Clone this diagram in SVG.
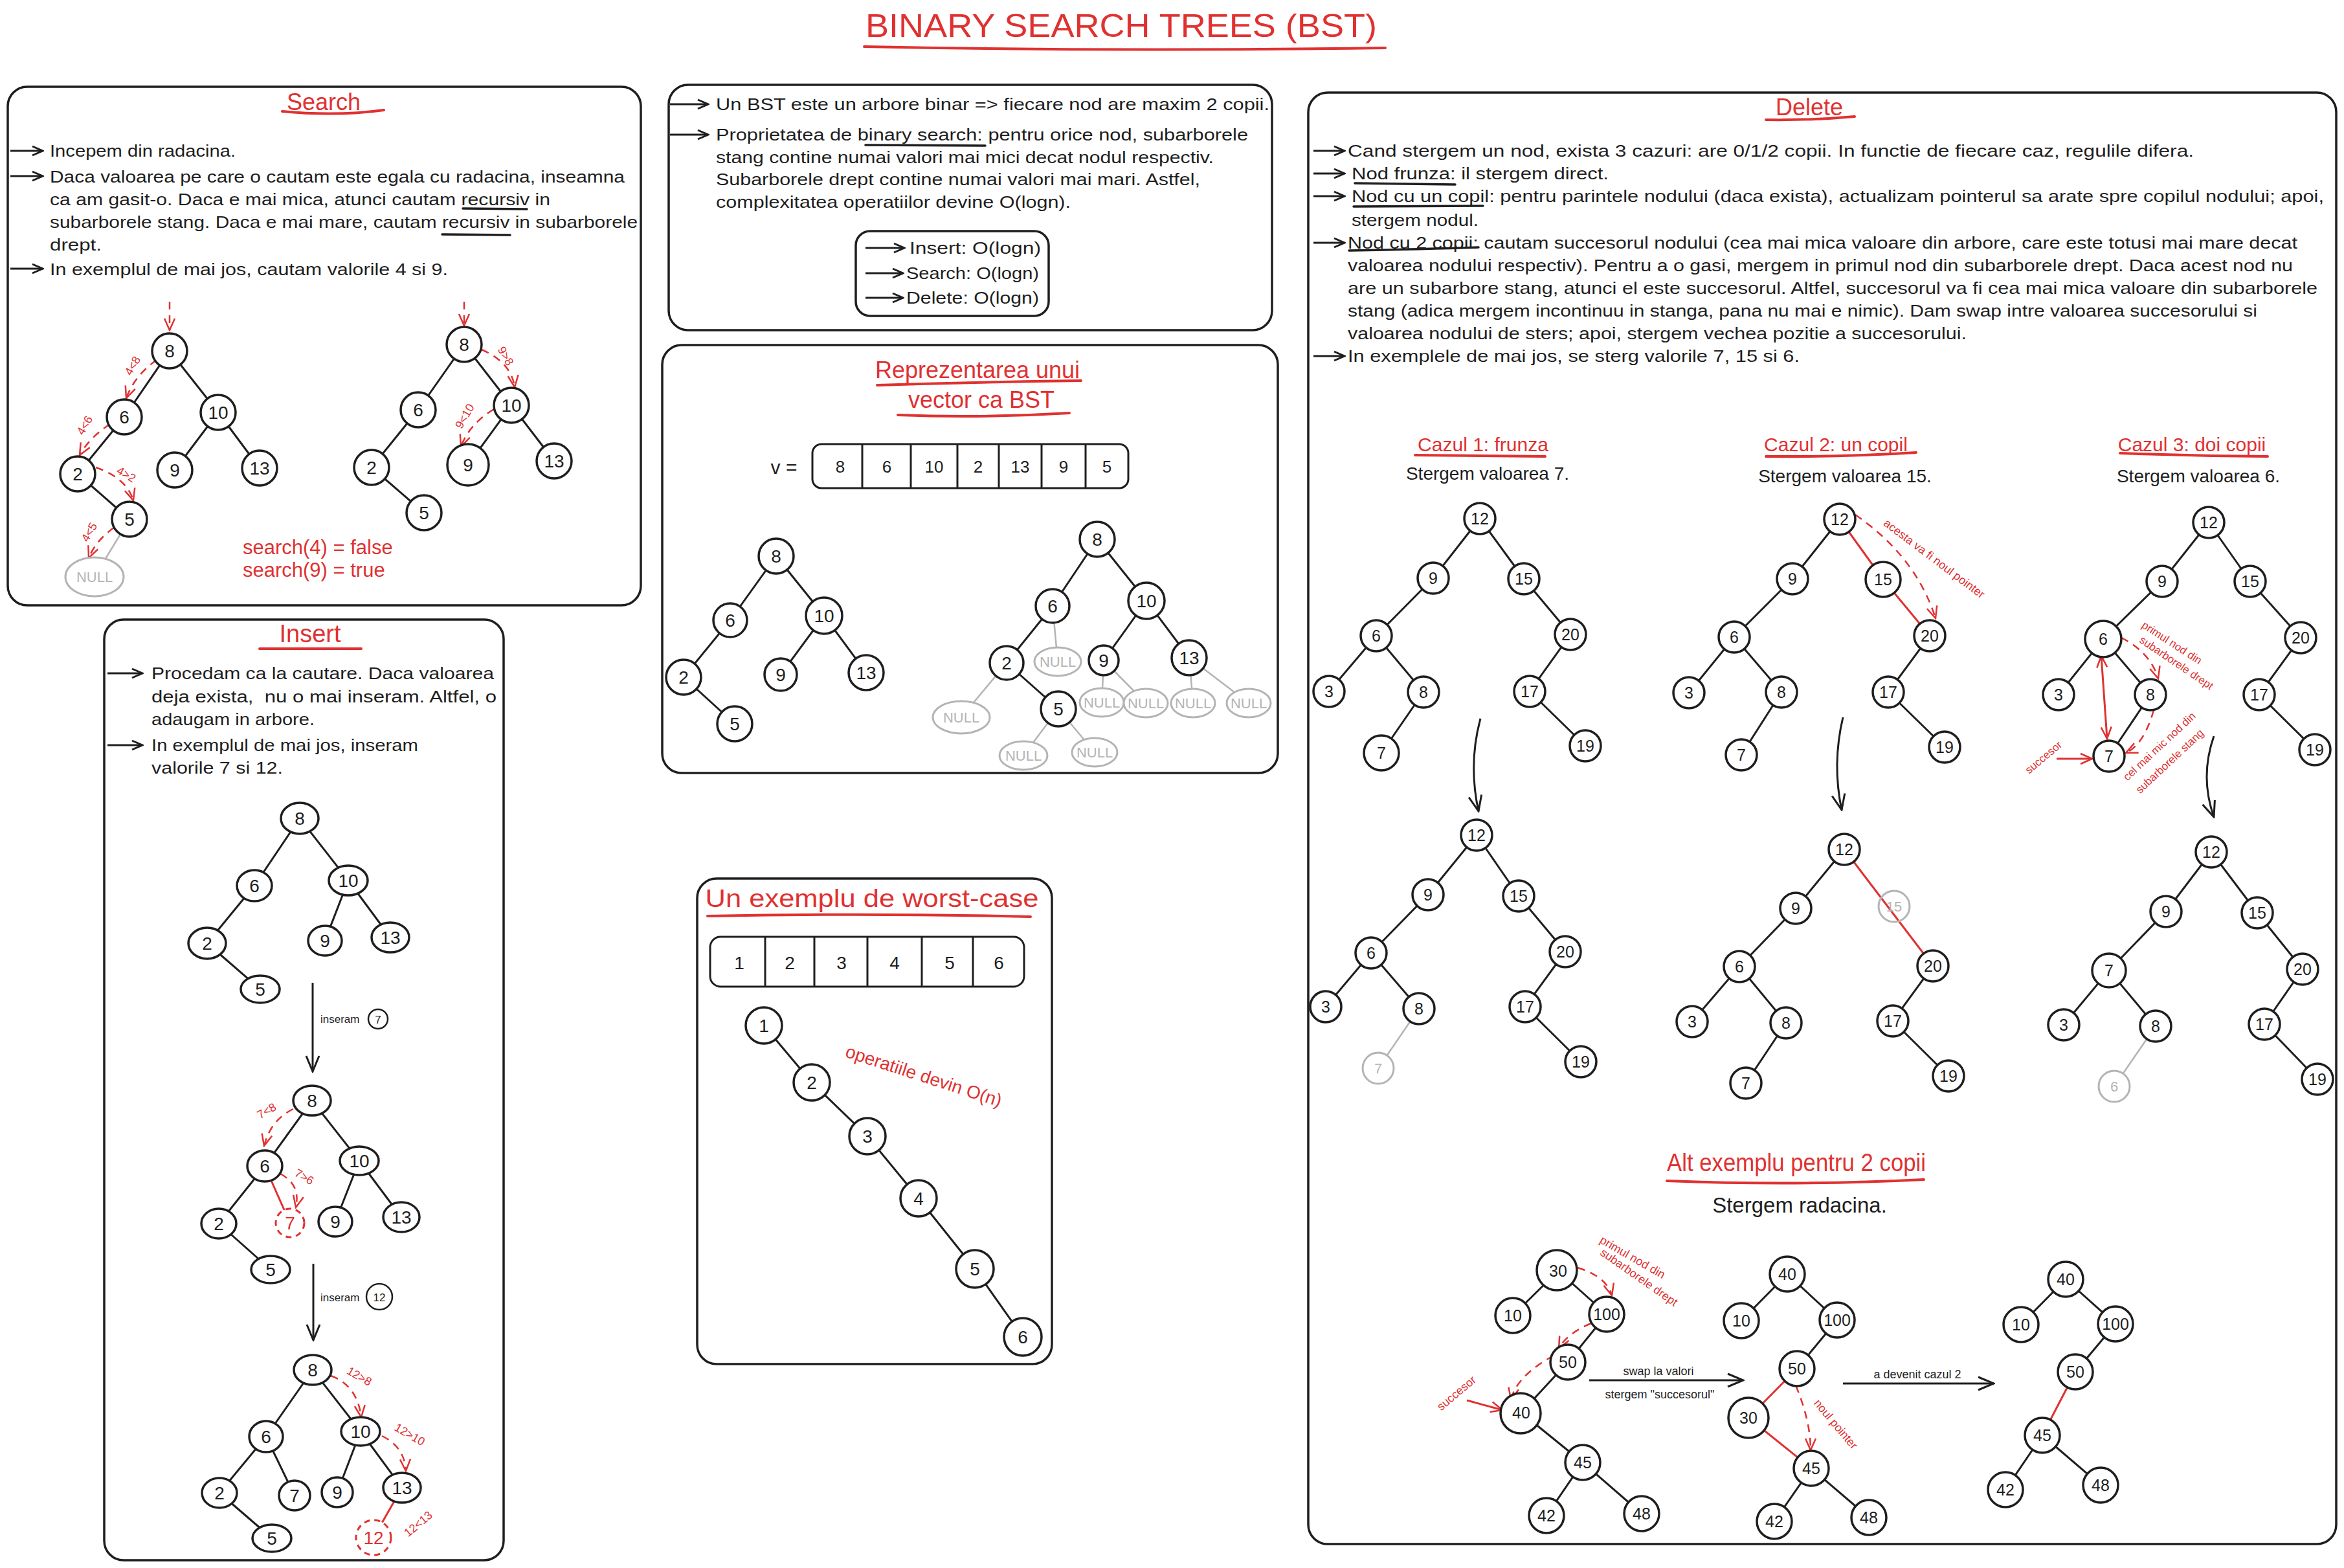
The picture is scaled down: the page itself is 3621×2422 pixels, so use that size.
<svg xmlns="http://www.w3.org/2000/svg" width="3621" height="2422" viewBox="0 0 3621 2422">
<style>
.bg{fill:#fff}
.pn{fill:none;stroke:#1e1e1e;stroke-width:3.5}
.t{font-family:"Liberation Sans",Arial,sans-serif;fill:#1e1e1e;dominant-baseline:central;font-size:26px}
.rt{font-family:"Liberation Sans",Arial,sans-serif;fill:#e03131;dominant-baseline:central;font-size:18px}
.h{text-anchor:middle}
.ttl{font-size:36px}
.nd circle,.nd ellipse{fill:#fff;stroke:#1e1e1e;stroke-width:3.5}
.nd text{font-family:"Liberation Sans",Arial,sans-serif;font-size:28px;text-anchor:middle;dominant-baseline:central;fill:#1e1e1e}
.sm text{font-size:25px}
.gn circle,.gn ellipse{fill:#fff;stroke:#b4b4b4;stroke-width:3}
.gn text{font-family:"Liberation Sans",Arial,sans-serif;font-size:22px;text-anchor:middle;dominant-baseline:central;fill:#b4b4b4}
.dn circle{fill:#fff;stroke:#e03131;stroke-width:3;stroke-dasharray:9 7}
.dn text{font-family:"Liberation Sans",Arial,sans-serif;font-size:28px;text-anchor:middle;dominant-baseline:central;fill:#e03131}
.ring{fill:none;stroke:#e03131;stroke-width:3}
.e line,.e polyline{stroke:#1e1e1e;stroke-width:3;fill:none}
.e .g{stroke:#b4b4b4;stroke-width:2.5}
.e .r{stroke:#e03131;stroke-width:3}
.rd{stroke:#e03131;stroke-width:2.5;fill:none;stroke-dasharray:12 9}
.ra{stroke:#e03131;stroke-width:3;fill:none}
.ka{stroke:#1e1e1e;stroke-width:3;fill:none}
.ul{stroke:#1e1e1e;stroke-width:3.5;fill:none;stroke-linecap:round}
.ur{stroke:#e03131;stroke-width:4;fill:none;stroke-linecap:round}
.cell{fill:none;stroke:#1e1e1e;stroke-width:3}
</style>
<defs>
<marker id="ak" viewBox="0 0 28 28" refX="26" refY="14" markerWidth="28" markerHeight="28" markerUnits="userSpaceOnUse" orient="auto"><path d="M2,4 L26,14 L2,24" fill="none" stroke="#1e1e1e" stroke-width="3"/></marker>
<marker id="ab" viewBox="0 0 20 20" refX="18" refY="10" markerWidth="20" markerHeight="20" markerUnits="userSpaceOnUse" orient="auto"><path d="M2,3 L18,10 L2,17" fill="none" stroke="#1e1e1e" stroke-width="3"/></marker>
<marker id="ar" viewBox="0 0 22 22" refX="20" refY="11" markerWidth="22" markerHeight="22" markerUnits="userSpaceOnUse" orient="auto"><path d="M2,3 L20,11 L2,19" fill="none" stroke="#e03131" stroke-width="2.5"/></marker>
<marker id="ars" viewBox="0 0 22 22" refX="2" refY="11" markerWidth="22" markerHeight="22" markerUnits="userSpaceOnUse" orient="auto"><path d="M20,3 L2,11 L20,19" fill="none" stroke="#e03131" stroke-width="2.5"/></marker>
</defs>
<rect class="bg" x="0" y="0" width="3621" height="2422"/>

<!-- Title -->
<g id="title">
<text class="rt h" x="1732" y="40" style="font-size:50px" textLength="790" lengthAdjust="spacingAndGlyphs">BINARY SEARCH TREES (BST)</text>
<path class="ur" d="M1335,72 Q1740,80 2140,74"/>
</g>

<!-- Panels -->
<g id="panels">
<rect class="pn" x="12" y="134" width="978" height="801" rx="30"/>
<rect class="pn" x="161" y="957" width="617" height="1453" rx="30"/>
<rect class="pn" x="1033" y="131" width="932" height="379" rx="30"/>
<rect class="pn" x="1023" y="533" width="951" height="661" rx="30"/>
<rect class="pn" x="1077" y="1357" width="548" height="750" rx="30"/>
<rect class="pn" x="2021" y="143" width="1588" height="2242" rx="30"/>
</g>

<!-- Connectors -->
<g id="connectors" class="e">
<!-- search -->
<line x1="262" y1="542" x2="192" y2="644"/><line x1="262" y1="542" x2="337" y2="637"/><line x1="192" y1="644" x2="120" y2="732"/><line x1="120" y1="732" x2="200" y2="802"/><line x1="337" y1="637" x2="270" y2="726"/><line x1="337" y1="637" x2="401" y2="723"/><line class="g" x1="200" y1="802" x2="146" y2="891"/>
<line x1="717" y1="532" x2="646" y2="633"/><line x1="717" y1="532" x2="790" y2="626"/><line x1="646" y1="633" x2="574" y2="722"/><line x1="574" y1="722" x2="655" y2="792"/><line x1="790" y1="626" x2="723" y2="718"/><line x1="790" y1="626" x2="856" y2="712"/>
<!-- insert -->
<line x1="463" y1="1264" x2="393" y2="1368"/><line x1="463" y1="1264" x2="538" y2="1360"/><line x1="393" y1="1368" x2="320" y2="1457"/><line x1="320" y1="1457" x2="402" y2="1528"/><line x1="538" y1="1360" x2="502" y2="1453"/><line x1="538" y1="1360" x2="603" y2="1448"/>
<line x1="482" y1="1700" x2="409" y2="1801"/><line x1="482" y1="1700" x2="555" y2="1793"/><line x1="409" y1="1801" x2="338" y2="1890"/><line x1="338" y1="1890" x2="418" y2="1961"/><line x1="555" y1="1793" x2="518" y2="1887"/><line x1="555" y1="1793" x2="620" y2="1880"/><line class="r" x1="409" y1="1801" x2="448" y2="1889"/>
<line x1="483" y1="2116" x2="411" y2="2219"/><line x1="483" y1="2116" x2="557" y2="2211"/><line x1="411" y1="2219" x2="339" y2="2306"/><line x1="411" y1="2219" x2="455" y2="2310"/><line x1="339" y1="2306" x2="420" y2="2376"/><line x1="557" y1="2211" x2="521" y2="2305"/><line x1="557" y1="2211" x2="621" y2="2298"/><line class="r" x1="621" y1="2298" x2="577" y2="2375"/>
<!-- vector -->
<line x1="1199" y1="859" x2="1128" y2="958"/><line x1="1199" y1="859" x2="1273" y2="951"/><line x1="1128" y1="958" x2="1056" y2="1046"/><line x1="1056" y1="1046" x2="1135" y2="1118"/><line x1="1273" y1="951" x2="1206" y2="1042"/><line x1="1273" y1="951" x2="1338" y2="1039"/>
<line x1="1695" y1="833" x2="1626" y2="936"/><line x1="1695" y1="833" x2="1771" y2="928"/><line x1="1626" y1="936" x2="1555" y2="1024"/><line x1="1555" y1="1024" x2="1635" y2="1095"/><line x1="1771" y1="928" x2="1705" y2="1020"/><line x1="1771" y1="928" x2="1837" y2="1016"/>
<line class="g" x1="1626" y1="936" x2="1634" y2="1022"/><line class="g" x1="1555" y1="1024" x2="1485" y2="1108"/><line class="g" x1="1705" y1="1020" x2="1702" y2="1085"/><line class="g" x1="1705" y1="1020" x2="1770" y2="1086"/><line class="g" x1="1837" y1="1016" x2="1843" y2="1086"/><line class="g" x1="1837" y1="1016" x2="1929" y2="1086"/><line class="g" x1="1635" y1="1095" x2="1581" y2="1167"/><line class="g" x1="1635" y1="1095" x2="1691" y2="1162"/>
<!-- worst case -->
<polyline points="1180,1584 1254,1672 1340,1755 1419,1851 1506,1960 1580,2065"/>
<!-- delete case 1 -->
<line x1="2286" y1="801" x2="2214" y2="893"/><line x1="2286" y1="801" x2="2354" y2="894"/><line x1="2214" y1="893" x2="2126" y2="982"/><line x1="2354" y1="894" x2="2426" y2="980"/><line x1="2126" y1="982" x2="2053" y2="1068"/><line x1="2126" y1="982" x2="2199" y2="1069"/><line x1="2199" y1="1069" x2="2134" y2="1163"/><line x1="2426" y1="980" x2="2363" y2="1068"/><line x1="2363" y1="1068" x2="2449" y2="1152"/>
<line x1="2281" y1="1290" x2="2206" y2="1382"/><line x1="2281" y1="1290" x2="2346" y2="1384"/><line x1="2206" y1="1382" x2="2118" y2="1472"/><line x1="2346" y1="1384" x2="2418" y2="1470"/><line x1="2118" y1="1472" x2="2048" y2="1555"/><line x1="2118" y1="1472" x2="2192" y2="1558"/><line class="g" x1="2192" y1="1558" x2="2129" y2="1650"/><line x1="2418" y1="1470" x2="2356" y2="1555"/><line x1="2356" y1="1555" x2="2442" y2="1640"/>
<!-- delete case 2 -->
<line x1="2842" y1="802" x2="2769" y2="894"/><line class="r" x1="2842" y1="802" x2="2909" y2="895"/><line x1="2769" y1="894" x2="2679" y2="984"/><line class="r" x1="2909" y1="895" x2="2981" y2="982"/><line x1="2679" y1="984" x2="2609" y2="1070"/><line x1="2679" y1="984" x2="2752" y2="1069"/><line x1="2752" y1="1069" x2="2690" y2="1166"/><line x1="2981" y1="982" x2="2917" y2="1069"/><line x1="2917" y1="1069" x2="3004" y2="1154"/>
<line x1="2849" y1="1312" x2="2774" y2="1403"/><line class="r" x1="2849" y1="1312" x2="2986" y2="1492"/><line x1="2774" y1="1403" x2="2687" y2="1493"/><line x1="2687" y1="1493" x2="2614" y2="1578"/><line x1="2687" y1="1493" x2="2759" y2="1580"/><line x1="2759" y1="1580" x2="2697" y2="1673"/><line x1="2986" y1="1492" x2="2924" y2="1577"/><line x1="2924" y1="1577" x2="3010" y2="1662"/>
<!-- delete case 3 -->
<line x1="3412" y1="807" x2="3340" y2="898"/><line x1="3412" y1="807" x2="3476" y2="898"/><line x1="3340" y1="898" x2="3249" y2="987"/><line x1="3476" y1="898" x2="3554" y2="985"/><line x1="3249" y1="987" x2="3180" y2="1073"/><line x1="3249" y1="987" x2="3322" y2="1073"/><line x1="3322" y1="1073" x2="3258" y2="1168"/><line x1="3554" y1="985" x2="3490" y2="1073"/><line x1="3490" y1="1073" x2="3576" y2="1158"/>
<line x1="3416" y1="1316" x2="3346" y2="1408"/><line x1="3416" y1="1316" x2="3487" y2="1410"/><line x1="3346" y1="1408" x2="3258" y2="1499"/><line x1="3487" y1="1410" x2="3557" y2="1497"/><line x1="3258" y1="1499" x2="3188" y2="1583"/><line x1="3258" y1="1499" x2="3330" y2="1585"/><line class="g" x1="3330" y1="1585" x2="3266" y2="1678"/><line x1="3557" y1="1497" x2="3498" y2="1582"/><line x1="3498" y1="1582" x2="3580" y2="1667"/>
<!-- alt example -->
<line x1="2407" y1="1963" x2="2337" y2="2032"/><line x1="2407" y1="1963" x2="2482" y2="2030"/><line x1="2482" y1="2030" x2="2422" y2="2104"/><line x1="2422" y1="2104" x2="2350" y2="2182"/><line x1="2350" y1="2182" x2="2445" y2="2259"/><line x1="2445" y1="2259" x2="2389" y2="2341"/><line x1="2445" y1="2259" x2="2536" y2="2338"/>
<line x1="2761" y1="1968" x2="2690" y2="2040"/><line x1="2761" y1="1968" x2="2838" y2="2039"/><line x1="2838" y1="2039" x2="2776" y2="2114"/><line class="r" x1="2776" y1="2114" x2="2701" y2="2190"/><line class="r" x1="2701" y1="2190" x2="2798" y2="2268"/><line x1="2798" y1="2268" x2="2741" y2="2350"/><line x1="2798" y1="2268" x2="2887" y2="2344"/>
<line x1="3191" y1="1976" x2="3122" y2="2046"/><line x1="3191" y1="1976" x2="3268" y2="2045"/><line x1="3268" y1="2045" x2="3206" y2="2119"/><line class="r" x1="3206" y1="2119" x2="3155" y2="2217"/><line x1="3155" y1="2217" x2="3098" y2="2301"/><line x1="3155" y1="2217" x2="3245" y2="2294"/>
<!-- flow arrows -->
<line class="ka" x1="483" y1="1518" x2="483" y2="1655" marker-end="url(#ak)"/>
<line class="ka" x1="484" y1="1952" x2="484" y2="2070" marker-end="url(#ak)"/>
<path class="ka" d="M2287,1110 Q2268,1180 2284,1253" marker-end="url(#ak)"/>
<path class="ka" d="M2847,1108 Q2830,1180 2845,1251" marker-end="url(#ak)"/>
<path class="ka" d="M3420,1137 Q3398,1200 3420,1262" marker-end="url(#ak)"/>
<line class="ka" x1="2455" y1="2132" x2="2693" y2="2132" marker-end="url(#ak)"/>
<line class="ka" x1="2847" y1="2137" x2="3080" y2="2137" marker-end="url(#ak)"/>
</g>

<!-- SEARCH panel -->
<g id="search">
<text class="rt h ttl" x="500" y="157">Search</text>
<path class="ur" d="M436,172 Q520,180 593,170"/>
<path class="ka" d="M16,233 L66,233" marker-end="url(#ab)"/>
<path class="ka" d="M16,272 L66,272" marker-end="url(#ab)"/>
<path class="ka" d="M16,415 L66,415" marker-end="url(#ab)"/>
<text class="t" x="77" y="233" textLength="287" lengthAdjust="spacingAndGlyphs">Incepem din radacina.</text>
<text class="t" x="77" y="273" textLength="888" lengthAdjust="spacingAndGlyphs">Daca valoarea pe care o cautam este egala cu radacina, inseamna</text>
<text class="t" x="77" y="308" textLength="773" lengthAdjust="spacingAndGlyphs">ca am gasit-o. Daca e mai mica, atunci cautam recursiv in</text>
<text class="t" x="77" y="343" textLength="908" lengthAdjust="spacingAndGlyphs">subarborele stang. Daca e mai mare, cautam recursiv in subarborele</text>
<text class="t" x="77" y="378" textLength="80" lengthAdjust="spacingAndGlyphs">drept.</text>
<text class="t" x="77" y="416" textLength="615" lengthAdjust="spacingAndGlyphs">In exemplul de mai jos, cautam valorile 4 si 9.</text>
<path class="ul" d="M715,322 L814,323"/>
<path class="ul" d="M683,362 L788,363"/>
<text class="rt" x="375" y="845" style="font-size:31px">search(4) = false</text>
<text class="rt" x="375" y="880" style="font-size:31px">search(9) = true</text>
<path class="rd" d="M262,466 L262,510" marker-end="url(#ar)"/>
<path class="rd" d="M242,556 Q208,580 195,615" marker-end="url(#ar)"/>
<path class="rd" d="M170,655 Q138,676 123,703" marker-end="url(#ar)"/>
<path class="rd" d="M148,722 Q195,738 206,773" marker-end="url(#ar)"/>
<path class="rd" d="M176,815 Q148,835 137,862" marker-end="url(#ar)"/>
<text class="rt h" transform="rotate(-60 205 565)" x="205" y="565">4&lt;8</text>
<text class="rt h" transform="rotate(-60 131 657)" x="131" y="657">4&lt;6</text>
<text class="rt h" transform="rotate(30 195 733)" x="195" y="733">4&gt;2</text>
<text class="rt h" transform="rotate(-60 138 822)" x="138" y="822">4&lt;5</text>
<path class="rd" d="M717,466 L717,503" marker-end="url(#ar)"/>
<path class="rd" d="M744,540 Q790,560 795,598" marker-end="url(#ar)"/>
<path class="rd" d="M763,632 Q725,655 712,690" marker-end="url(#ar)"/>
<text class="rt h" transform="rotate(60 781 550)" x="781" y="550">9&gt;8</text>
<text class="rt h" transform="rotate(-60 718 643)" x="718" y="643">9&lt;10</text>
</g>
<g id="s1-8" class="nd"><circle cx="262" cy="542" r="27"/><text x="262" y="542">8</text></g>
<g id="s1-6" class="nd"><circle cx="192" cy="644" r="27"/><text x="192" y="644">6</text></g>
<g id="s1-10" class="nd"><circle cx="337" cy="637" r="27"/><text x="337" y="637">10</text></g>
<g id="s1-2" class="nd"><circle cx="120" cy="732" r="27"/><text x="120" y="732">2</text></g>
<g id="s1-9" class="nd"><circle cx="270" cy="726" r="27"/><text x="270" y="726">9</text></g>
<g id="s1-13" class="nd"><circle cx="401" cy="723" r="27"/><text x="401" y="723">13</text></g>
<g id="s1-5" class="nd"><circle cx="200" cy="802" r="27"/><text x="200" y="802">5</text></g>
<g id="s1-null" class="gn"><ellipse cx="146" cy="891" rx="45" ry="30"/><text x="146" y="891">NULL</text></g>
<g id="s2-8" class="nd"><circle cx="717" cy="532" r="27"/><text x="717" y="532">8</text></g>
<g id="s2-6" class="nd"><circle cx="646" cy="633" r="27"/><text x="646" y="633">6</text></g>
<g id="s2-10" class="nd"><circle cx="790" cy="626" r="27"/><text x="790" y="626">10</text></g>
<g id="s2-2" class="nd"><circle cx="574" cy="722" r="27"/><text x="574" y="722">2</text></g>
<g id="s2-9" class="nd"><circle cx="723" cy="718" r="26"/><circle class="ring" cx="723" cy="718" r="32"/><text x="723" y="718">9</text></g>
<g id="s2-13" class="nd"><circle cx="856" cy="712" r="27"/><text x="856" y="712">13</text></g>
<g id="s2-5" class="nd"><circle cx="655" cy="792" r="27"/><text x="655" y="792">5</text></g>

<!-- INSERT panel -->
<g id="insert">
<text class="rt h ttl" x="479" y="979" style="font-size:38px">Insert</text>
<path class="ur" d="M401,1002 L558,1002"/>
<path class="ka" d="M166,1040 L220,1040" marker-end="url(#ab)"/>
<path class="ka" d="M166,1151 L220,1151" marker-end="url(#ab)"/>
<text class="t" x="234" y="1040" textLength="529" lengthAdjust="spacingAndGlyphs">Procedam ca la cautare. Daca valoarea</text>
<text class="t" x="234" y="1076" xml:space="preserve" textLength="533" lengthAdjust="spacingAndGlyphs">deja exista,  nu o mai inseram. Altfel, o</text>
<text class="t" x="234" y="1111" textLength="252" lengthAdjust="spacingAndGlyphs">adaugam in arbore.</text>
<text class="t" x="234" y="1151" textLength="412" lengthAdjust="spacingAndGlyphs">In exemplul de mai jos, inseram</text>
<text class="t" x="234" y="1186" textLength="203" lengthAdjust="spacingAndGlyphs">valorile 7 si 12.</text>
<text class="t" x="495" y="1574" style="font-size:17px">inseram</text>
<circle cx="584" cy="1574" r="15" fill="none" stroke="#1e1e1e" stroke-width="2.5"/><text class="t h" x="584" y="1575" style="font-size:17px">7</text>
<text class="t" x="495" y="2004" style="font-size:17px">inseram</text>
<circle cx="586" cy="2003" r="20" fill="none" stroke="#1e1e1e" stroke-width="2.5"/><text class="t h" x="586" y="2004" style="font-size:17px">12</text>
<path class="rd" d="M453,1713 Q418,1730 408,1770" marker-end="url(#ar)"/>
<path class="rd" d="M433,1813 Q465,1830 457,1865" marker-end="url(#ar)"/>
<path class="rd" d="M511,2125 Q552,2140 558,2189" marker-end="url(#ar)"/>
<path class="rd" d="M590,2218 Q625,2235 627,2272" marker-end="url(#ar)"/>
<text class="rt h" transform="rotate(-30 412 1716)" x="412" y="1716">7&lt;8</text>
<text class="rt h" transform="rotate(30 470 1818)" x="470" y="1818">7&gt;6</text>
<text class="rt h" transform="rotate(30 555 2126)" x="555" y="2126">12&gt;8</text>
<text class="rt h" transform="rotate(30 633 2216)" x="633" y="2216">12&gt;10</text>
<text class="rt h" transform="rotate(-40 646 2354)" x="646" y="2354">12&lt;13</text>
</g>
<g id="i1-8" class="nd"><ellipse cx="463" cy="1264" rx="29" ry="24"/><text x="463" y="1264">8</text></g>
<g id="i1-6" class="nd"><ellipse cx="393" cy="1368" rx="27" ry="24"/><text x="393" y="1368">6</text></g>
<g id="i1-10" class="nd"><ellipse cx="538" cy="1360" rx="30" ry="23"/><text x="538" y="1360">10</text></g>
<g id="i1-2" class="nd"><ellipse cx="320" cy="1457" rx="29" ry="24"/><text x="320" y="1457">2</text></g>
<g id="i1-9" class="nd"><ellipse cx="502" cy="1453" rx="26" ry="23"/><text x="502" y="1453">9</text></g>
<g id="i1-13" class="nd"><ellipse cx="603" cy="1448" rx="29" ry="23"/><text x="603" y="1448">13</text></g>
<g id="i1-5" class="nd"><ellipse cx="402" cy="1528" rx="30" ry="21"/><text x="402" y="1528">5</text></g>
<g id="i2-8" class="nd"><ellipse cx="482" cy="1700" rx="29" ry="23"/><text x="482" y="1700">8</text></g>
<g id="i2-6" class="nd"><ellipse cx="409" cy="1801" rx="27" ry="24"/><text x="409" y="1801">6</text></g>
<g id="i2-10" class="nd"><ellipse cx="555" cy="1793" rx="30" ry="22"/><text x="555" y="1793">10</text></g>
<g id="i2-2" class="nd"><ellipse cx="338" cy="1890" rx="27" ry="23"/><text x="338" y="1890">2</text></g>
<g id="i2-7" class="dn"><circle cx="448" cy="1889" r="22"/><text x="448" y="1889">7</text></g>
<g id="i2-9" class="nd"><ellipse cx="518" cy="1887" rx="26" ry="23"/><text x="518" y="1887">9</text></g>
<g id="i2-13" class="nd"><ellipse cx="620" cy="1880" rx="28" ry="23"/><text x="620" y="1880">13</text></g>
<g id="i2-5" class="nd"><ellipse cx="418" cy="1961" rx="30" ry="21"/><text x="418" y="1961">5</text></g>
<g id="i3-8" class="nd"><ellipse cx="483" cy="2116" rx="29" ry="23"/><text x="483" y="2116">8</text></g>
<g id="i3-6" class="nd"><ellipse cx="411" cy="2219" rx="26" ry="24"/><text x="411" y="2219">6</text></g>
<g id="i3-10" class="nd"><ellipse cx="557" cy="2211" rx="30" ry="22"/><text x="557" y="2211">10</text></g>
<g id="i3-2" class="nd"><ellipse cx="339" cy="2306" rx="27" ry="23"/><text x="339" y="2306">2</text></g>
<g id="i3-7" class="nd"><ellipse cx="455" cy="2310" rx="24" ry="23"/><text x="455" y="2310">7</text></g>
<g id="i3-9" class="nd"><ellipse cx="521" cy="2305" rx="24" ry="23"/><text x="521" y="2305">9</text></g>
<g id="i3-13" class="nd"><ellipse cx="621" cy="2298" rx="29" ry="23"/><text x="621" y="2298">13</text></g>
<g id="i3-5" class="nd"><ellipse cx="420" cy="2376" rx="30" ry="21"/><text x="420" y="2376">5</text></g>
<g id="i3-12" class="dn"><circle cx="577" cy="2375" r="27"/><text x="577" y="2375">12</text></g>

<!-- MIDDLE top panel -->
<g id="intro">
<path class="ka" d="M1035,161 L1094,161" marker-end="url(#ab)"/>
<path class="ka" d="M1035,208 L1094,208" marker-end="url(#ab)"/>
<text class="t" x="1106" y="161" textLength="855" lengthAdjust="spacingAndGlyphs">Un BST este un arbore binar =&gt; fiecare nod are maxim 2 copii.</text>
<text class="t" x="1106" y="208" textLength="822" lengthAdjust="spacingAndGlyphs">Proprietatea de binary search: pentru orice nod, subarborele</text>
<text class="t" x="1106" y="243" textLength="769" lengthAdjust="spacingAndGlyphs">stang contine numai valori mai mici decat nodul respectiv.</text>
<text class="t" x="1106" y="277" textLength="748" lengthAdjust="spacingAndGlyphs">Subarborele drept contine numai valori mai mari. Astfel,</text>
<text class="t" x="1106" y="312" textLength="548" lengthAdjust="spacingAndGlyphs">complexitatea operatiilor devine O(logn).</text>
<path class="ul" d="M1337,224 L1522,225"/>
<rect class="pn" x="1322" y="357" width="298" height="131" rx="22"/>
<path class="ka" d="M1337,383 L1397,383" marker-end="url(#ab)"/>
<path class="ka" d="M1337,422 L1395,422" marker-end="url(#ab)"/>
<path class="ka" d="M1337,460 L1395,460" marker-end="url(#ab)"/>
<text class="t" x="1405" y="383" textLength="203" lengthAdjust="spacingAndGlyphs">Insert: O(logn)</text>
<text class="t" x="1400" y="422" textLength="205" lengthAdjust="spacingAndGlyphs">Search: O(logn)</text>
<text class="t" x="1400" y="460" textLength="205" lengthAdjust="spacingAndGlyphs">Delete: O(logn)</text>
</g>

<!-- VECTOR panel -->
<g id="vector">
<text class="rt h ttl" x="1510" y="571">Reprezentarea unui</text>
<path class="ur" d="M1355,595 Q1510,590 1670,588"/>
<text class="rt h ttl" x="1516" y="617">vector ca BST</text>
<path class="ur" d="M1387,641 Q1520,646 1652,638"/>
<text class="t" x="1211" y="721" style="font-size:30px" text-anchor="middle">v =</text>
<rect class="cell" x="1255" y="686" width="488" height="68" rx="14"/>
<path class="cell" d="M1332,686 V754 M1407,686 V754 M1479,686 V754 M1543,686 V754 M1609,686 V754 M1677,686 V754"/>
<text class="t h" x="1298" y="721">8</text><text class="t h" x="1370" y="721">6</text><text class="t h" x="1443" y="721">10</text><text class="t h" x="1511" y="721">2</text><text class="t h" x="1576" y="721">13</text><text class="t h" x="1643" y="721">9</text><text class="t h" x="1710" y="721">5</text>
</g>
<g id="v1-8" class="nd"><circle cx="1199" cy="859" r="27"/><text x="1199" y="859">8</text></g>
<g id="v1-6" class="nd"><circle cx="1128" cy="958" r="26"/><text x="1128" y="958">6</text></g>
<g id="v1-10" class="nd"><circle cx="1273" cy="951" r="28"/><text x="1273" y="951">10</text></g>
<g id="v1-2" class="nd"><circle cx="1056" cy="1046" r="27"/><text x="1056" y="1046">2</text></g>
<g id="v1-9" class="nd"><circle cx="1206" cy="1042" r="25"/><text x="1206" y="1042">9</text></g>
<g id="v1-13" class="nd"><circle cx="1338" cy="1039" r="27"/><text x="1338" y="1039">13</text></g>
<g id="v1-5" class="nd"><circle cx="1135" cy="1118" r="27"/><text x="1135" y="1118">5</text></g>
<g id="v2-8" class="nd"><circle cx="1695" cy="833" r="27"/><text x="1695" y="833">8</text></g>
<g id="v2-6" class="nd"><circle cx="1626" cy="936" r="26"/><text x="1626" y="936">6</text></g>
<g id="v2-10" class="nd"><circle cx="1771" cy="928" r="28"/><text x="1771" y="928">10</text></g>
<g id="v2-2" class="nd"><circle cx="1555" cy="1024" r="26"/><text x="1555" y="1024">2</text></g>
<g id="v2-9" class="nd"><circle cx="1705" cy="1020" r="23"/><text x="1705" y="1020">9</text></g>
<g id="v2-13" class="nd"><circle cx="1837" cy="1016" r="27"/><text x="1837" y="1016">13</text></g>
<g id="v2-5" class="nd"><circle cx="1635" cy="1095" r="27"/><text x="1635" y="1095">5</text></g>
<g id="v2-n1" class="gn"><ellipse cx="1634" cy="1022" rx="36" ry="22"/><text x="1634" y="1022">NULL</text></g>
<g id="v2-n2" class="gn"><ellipse cx="1485" cy="1108" rx="44" ry="25"/><text x="1485" y="1108">NULL</text></g>
<g id="v2-n3" class="gn"><ellipse cx="1702" cy="1085" rx="34" ry="22"/><text x="1702" y="1085">NULL</text></g>
<g id="v2-n4" class="gn"><ellipse cx="1770" cy="1086" rx="34" ry="22"/><text x="1770" y="1086">NULL</text></g>
<g id="v2-n5" class="gn"><ellipse cx="1843" cy="1086" rx="34" ry="22"/><text x="1843" y="1086">NULL</text></g>
<g id="v2-n6" class="gn"><ellipse cx="1929" cy="1086" rx="34" ry="22"/><text x="1929" y="1086">NULL</text></g>
<g id="v2-n7" class="gn"><ellipse cx="1581" cy="1167" rx="37" ry="22"/><text x="1581" y="1167">NULL</text></g>
<g id="v2-n8" class="gn"><ellipse cx="1691" cy="1162" rx="35" ry="22"/><text x="1691" y="1162">NULL</text></g>

<!-- WORST CASE panel -->
<g id="worst">
<text class="rt h" x="1347" y="1388" style="font-size:38px" textLength="515" lengthAdjust="spacingAndGlyphs">Un exemplu de worst-case</text>
<path class="ur" d="M1093,1415 Q1340,1410 1592,1416"/>
<rect class="cell" x="1097" y="1447" width="485" height="77" rx="16"/>
<path class="cell" d="M1182,1447 V1524 M1258,1447 V1524 M1340,1447 V1524 M1424,1447 V1524 M1503,1447 V1524"/>
<text class="t h" x="1142" y="1487" style="font-size:28px">1</text><text class="t h" x="1220" y="1487" style="font-size:28px">2</text><text class="t h" x="1300" y="1487" style="font-size:28px">3</text><text class="t h" x="1382" y="1487" style="font-size:28px">4</text><text class="t h" x="1467" y="1487" style="font-size:28px">5</text><text class="t h" x="1543" y="1487" style="font-size:28px">6</text>
<text class="rt h" transform="rotate(18 1427 1662)" x="1427" y="1662" style="font-size:28px">operatiile devin O(n)</text>
</g>
<g id="w-1" class="nd"><circle cx="1180" cy="1584" r="28"/><text x="1180" y="1584">1</text></g>
<g id="w-2" class="nd"><circle cx="1254" cy="1672" r="28"/><text x="1254" y="1672">2</text></g>
<g id="w-3" class="nd"><circle cx="1340" cy="1755" r="28"/><text x="1340" y="1755">3</text></g>
<g id="w-4" class="nd"><circle cx="1419" cy="1851" r="28"/><text x="1419" y="1851">4</text></g>
<g id="w-5" class="nd"><circle cx="1506" cy="1960" r="29"/><text x="1506" y="1960">5</text></g>
<g id="w-6" class="nd"><circle cx="1580" cy="2065" r="29"/><text x="1580" y="2065">6</text></g>

<!-- DELETE panel -->
<g id="delete">
<text class="rt h ttl" x="2795" y="165">Delete</text>
<path class="ur" d="M2728,185 Q2800,186 2865,180"/>
<path class="ka" d="M2029,233 L2077,233" marker-end="url(#ab)"/>
<path class="ka" d="M2029,268 L2077,268" marker-end="url(#ab)"/>
<path class="ka" d="M2029,303 L2077,303" marker-end="url(#ab)"/>
<path class="ka" d="M2029,375 L2077,375" marker-end="url(#ab)"/>
<path class="ka" d="M2029,550 L2077,550" marker-end="url(#ab)"/>
<text class="t" x="2082" y="233" textLength="1307" lengthAdjust="spacingAndGlyphs">Cand stergem un nod, exista 3 cazuri: are 0/1/2 copii. In functie de fiecare caz, regulile difera.</text>
<text class="t" x="2088" y="268" textLength="397" lengthAdjust="spacingAndGlyphs">Nod frunza: il stergem direct.</text>
<text class="t" x="2088" y="303" textLength="1502" lengthAdjust="spacingAndGlyphs">Nod cu un copil: pentru parintele nodului (daca exista), actualizam pointerul sa arate spre copilul nodului; apoi,</text>
<text class="t" x="2088" y="340" textLength="196" lengthAdjust="spacingAndGlyphs">stergem nodul.</text>
<text class="t" x="2082" y="375" textLength="1467" lengthAdjust="spacingAndGlyphs">Nod cu 2 copii: cautam succesorul nodului (cea mai mica valoare din arbore, care este totusi mai mare decat</text>
<text class="t" x="2082" y="410" textLength="1460" lengthAdjust="spacingAndGlyphs">valoarea nodului respectiv). Pentru a o gasi, mergem in primul nod din subarborele drept. Daca acest nod nu</text>
<text class="t" x="2082" y="445" textLength="1498" lengthAdjust="spacingAndGlyphs">are un subarbore stang, atunci el este succesorul. Altfel, succesorul va fi cea mai mica valoare din subarborele</text>
<text class="t" x="2082" y="480" textLength="1405" lengthAdjust="spacingAndGlyphs">stang (adica mergem incontinuu in stanga, pana nu mai e nimic). Dam swap intre valoarea succesorului si</text>
<text class="t" x="2082" y="515" textLength="956" lengthAdjust="spacingAndGlyphs">valoarea nodului de sters; apoi, stergem vechea pozitie a succesorului.</text>
<text class="t" x="2082" y="550" textLength="698" lengthAdjust="spacingAndGlyphs">In exemplele de mai jos, se sterg valorile 7, 15 si 6.</text>
<path class="ul" d="M2093,283 L2248,285"/>
<path class="ul" d="M2091,319 L2291,318"/>
<path class="ul" d="M2084,387 Q2200,385 2284,382"/>
<text class="rt h" x="2291" y="686" style="font-size:30px">Cazul 1: frunza</text>
<path class="ur" d="M2186,703 L2387,705"/>
<text class="t h" x="2298" y="731" style="font-size:28px">Stergem valoarea 7.</text>
<text class="rt h" x="2836" y="686" style="font-size:30px">Cazul 2: un copil</text>
<path class="ur" d="M2728,705 Q2850,706 2960,699"/>
<text class="t h" x="2850" y="735" style="font-size:28px">Stergem valoarea 15.</text>
<text class="rt h" x="3386" y="686" style="font-size:30px">Cazul 3: doi copii</text>
<path class="ur" d="M3275,700 Q3390,704 3503,705"/>
<text class="t h" x="3396" y="735" style="font-size:28px">Stergem valoarea 6.</text>
<path class="rd" d="M2866,795 Q2960,860 2990,955" marker-end="url(#ar)"/>
<text class="rt h" transform="rotate(37 2988 863)" x="2988" y="863">acesta va fi noul pointer</text>
<line class="ra" x1="3246" y1="1013" x2="3255" y2="1141" marker-start="url(#ars)" marker-end="url(#ar)"/>
<path class="rd" d="M3277,985 Q3322,1008 3334,1048" marker-end="url(#ar)"/>
<text class="rt h" transform="rotate(33 3355 993)" x="3355" y="993" style="font-size:17px">primul nod din</text>
<text class="rt h" transform="rotate(34 3362 1024)" x="3362" y="1024" style="font-size:17px">subarborele drept</text>
<path class="rd" d="M3327,1097 Q3312,1150 3284,1163" marker-end="url(#ar)"/>
<text class="rt h" transform="rotate(-43 3336 1153)" x="3336" y="1153" style="font-size:17px">cel mai mic nod din</text>
<text class="rt h" transform="rotate(-43 3352 1176)" x="3352" y="1176" style="font-size:17px">subarborele stang</text>
<text class="rt h" transform="rotate(-40 3157 1170)" x="3157" y="1170" style="font-size:17px">succesor</text>
<line class="ra" x1="3177" y1="1172" x2="3232" y2="1172" marker-end="url(#ar)"/>
<text class="rt h" x="2775" y="1796" style="font-size:38px" textLength="400" lengthAdjust="spacingAndGlyphs">Alt exemplu pentru 2 copii</text>
<path class="ur" d="M2575,1824 Q2775,1832 2972,1822"/>
<text class="t h" x="2780" y="1861" style="font-size:33px">Stergem radacina.</text>
<text class="t h" x="2562" y="2118" style="font-size:18px">swap la valori</text>
<text class="t h" x="2564" y="2154" style="font-size:18px">stergem "succesorul"</text>
<text class="t h" x="2962" y="2123" style="font-size:18px">a devenit cazul 2</text>
<text class="rt h" transform="rotate(30 2522 1942)" x="2522" y="1942">primul nod din</text>
<text class="rt h" transform="rotate(35 2532 1973)" x="2532" y="1973">subarborele drept</text>
<path class="rd" d="M2437,1958 Q2482,1972 2490,2001" marker-end="url(#ar)"/>
<path class="rd" d="M2458,2044 Q2420,2060 2408,2083" marker-end="url(#ar)"/>
<path class="rd" d="M2400,2094 Q2343,2125 2334,2162" marker-end="url(#ar)"/>
<text class="rt h" transform="rotate(-40 2250 2152)" x="2250" y="2152">succesor</text>
<line class="ra" x1="2266" y1="2163" x2="2321" y2="2178" marker-end="url(#ar)"/>
<path class="rd" d="M2774,2140 Q2797,2195 2797,2240" marker-end="url(#ar)"/>
<text class="rt h" transform="rotate(50 2836 2200)" x="2836" y="2200">noul pointer</text>
</g>

<g class="sm">
<!-- case 1 -->
<g id="d1-12" class="nd"><circle cx="2286" cy="801" r="24"/><text x="2286" y="801">12</text></g>
<g id="d1-9" class="nd"><circle cx="2214" cy="893" r="24"/><text x="2214" y="893">9</text></g>
<g id="d1-15" class="nd"><circle cx="2354" cy="894" r="24"/><text x="2354" y="894">15</text></g>
<g id="d1-6" class="nd"><circle cx="2126" cy="982" r="24"/><text x="2126" y="982">6</text></g>
<g id="d1-20" class="nd"><circle cx="2426" cy="980" r="24"/><text x="2426" y="980">20</text></g>
<g id="d1-3" class="nd"><circle cx="2053" cy="1068" r="24"/><text x="2053" y="1068">3</text></g>
<g id="d1-8" class="nd"><circle cx="2199" cy="1069" r="24"/><text x="2199" y="1069">8</text></g>
<g id="d1-17" class="nd"><circle cx="2363" cy="1068" r="24"/><text x="2363" y="1068">17</text></g>
<g id="d1-7" class="nd"><circle cx="2134" cy="1163" r="24"/><circle class="ring" cx="2134" cy="1163" r="27"/><text x="2134" y="1163">7</text></g>
<g id="d1-19" class="nd"><circle cx="2449" cy="1152" r="24"/><text x="2449" y="1152">19</text></g>
<g id="d1b-12" class="nd"><circle cx="2281" cy="1290" r="24"/><text x="2281" y="1290">12</text></g>
<g id="d1b-9" class="nd"><circle cx="2206" cy="1382" r="24"/><text x="2206" y="1382">9</text></g>
<g id="d1b-15" class="nd"><circle cx="2346" cy="1384" r="24"/><text x="2346" y="1384">15</text></g>
<g id="d1b-6" class="nd"><circle cx="2118" cy="1472" r="24"/><text x="2118" y="1472">6</text></g>
<g id="d1b-20" class="nd"><circle cx="2418" cy="1470" r="24"/><text x="2418" y="1470">20</text></g>
<g id="d1b-3" class="nd"><circle cx="2048" cy="1555" r="24"/><text x="2048" y="1555">3</text></g>
<g id="d1b-8" class="nd"><circle cx="2192" cy="1558" r="24"/><text x="2192" y="1558">8</text></g>
<g id="d1b-17" class="nd"><circle cx="2356" cy="1555" r="24"/><text x="2356" y="1555">17</text></g>
<g id="d1b-7" class="gn"><circle cx="2129" cy="1650" r="24"/><text x="2129" y="1650">7</text></g>
<g id="d1b-19" class="nd"><circle cx="2442" cy="1640" r="24"/><text x="2442" y="1640">19</text></g>
<!-- case 2 -->
<g id="d2-12" class="nd"><circle cx="2842" cy="802" r="24"/><text x="2842" y="802">12</text></g>
<g id="d2-9" class="nd"><circle cx="2769" cy="894" r="24"/><text x="2769" y="894">9</text></g>
<g id="d2-15" class="nd"><circle cx="2909" cy="895" r="24"/><circle class="ring" cx="2909" cy="895" r="27"/><text x="2909" y="895">15</text></g>
<g id="d2-6" class="nd"><circle cx="2679" cy="984" r="24"/><text x="2679" y="984">6</text></g>
<g id="d2-20" class="nd"><circle cx="2981" cy="982" r="24"/><text x="2981" y="982">20</text></g>
<g id="d2-3" class="nd"><circle cx="2609" cy="1070" r="24"/><text x="2609" y="1070">3</text></g>
<g id="d2-8" class="nd"><circle cx="2752" cy="1069" r="24"/><text x="2752" y="1069">8</text></g>
<g id="d2-17" class="nd"><circle cx="2917" cy="1069" r="24"/><text x="2917" y="1069">17</text></g>
<g id="d2-7" class="nd"><circle cx="2690" cy="1166" r="24"/><text x="2690" y="1166">7</text></g>
<g id="d2-19" class="nd"><circle cx="3004" cy="1154" r="24"/><text x="3004" y="1154">19</text></g>
<g id="d2b-12" class="nd"><circle cx="2849" cy="1312" r="24"/><text x="2849" y="1312">12</text></g>
<g id="d2b-9" class="nd"><circle cx="2774" cy="1403" r="24"/><text x="2774" y="1403">9</text></g>
<g id="d2b-15" class="gn"><circle cx="2926" cy="1400" r="24" style="fill:none"/><text x="2926" y="1400">15</text></g>
<g id="d2b-6" class="nd"><circle cx="2687" cy="1493" r="24"/><text x="2687" y="1493">6</text></g>
<g id="d2b-20" class="nd"><circle cx="2986" cy="1492" r="24"/><text x="2986" y="1492">20</text></g>
<g id="d2b-3" class="nd"><circle cx="2614" cy="1578" r="24"/><text x="2614" y="1578">3</text></g>
<g id="d2b-8" class="nd"><circle cx="2759" cy="1580" r="24"/><text x="2759" y="1580">8</text></g>
<g id="d2b-17" class="nd"><circle cx="2924" cy="1577" r="24"/><text x="2924" y="1577">17</text></g>
<g id="d2b-7" class="nd"><circle cx="2697" cy="1673" r="24"/><text x="2697" y="1673">7</text></g>
<g id="d2b-19" class="nd"><circle cx="3010" cy="1662" r="24"/><text x="3010" y="1662">19</text></g>
<!-- case 3 -->
<g id="d3-12" class="nd"><circle cx="3412" cy="807" r="24"/><text x="3412" y="807">12</text></g>
<g id="d3-9" class="nd"><circle cx="3340" cy="898" r="24"/><text x="3340" y="898">9</text></g>
<g id="d3-15" class="nd"><circle cx="3476" cy="898" r="24"/><text x="3476" y="898">15</text></g>
<g id="d3-6" class="nd"><circle cx="3249" cy="987" r="24"/><circle class="ring" cx="3249" cy="987" r="28"/><text x="3249" y="987">6</text></g>
<g id="d3-20" class="nd"><circle cx="3554" cy="985" r="24"/><text x="3554" y="985">20</text></g>
<g id="d3-3" class="nd"><circle cx="3180" cy="1073" r="24"/><text x="3180" y="1073">3</text></g>
<g id="d3-8" class="nd"><circle cx="3322" cy="1073" r="24"/><text x="3322" y="1073">8</text></g>
<g id="d3-17" class="nd"><circle cx="3490" cy="1073" r="24"/><text x="3490" y="1073">17</text></g>
<g id="d3-7" class="nd"><circle cx="3258" cy="1168" r="24"/><text x="3258" y="1168">7</text></g>
<g id="d3-19" class="nd"><circle cx="3576" cy="1158" r="24"/><text x="3576" y="1158">19</text></g>
<g id="d3b-12" class="nd"><circle cx="3416" cy="1316" r="24"/><text x="3416" y="1316">12</text></g>
<g id="d3b-9" class="nd"><circle cx="3346" cy="1408" r="24"/><text x="3346" y="1408">9</text></g>
<g id="d3b-15" class="nd"><circle cx="3487" cy="1410" r="24"/><text x="3487" y="1410">15</text></g>
<g id="d3b-7" class="nd"><circle cx="3258" cy="1499" r="24"/><circle class="ring" cx="3258" cy="1499" r="26"/><text x="3258" y="1499">7</text></g>
<g id="d3b-20" class="nd"><circle cx="3557" cy="1497" r="24"/><text x="3557" y="1497">20</text></g>
<g id="d3b-3" class="nd"><circle cx="3188" cy="1583" r="24"/><text x="3188" y="1583">3</text></g>
<g id="d3b-8" class="nd"><circle cx="3330" cy="1585" r="24"/><text x="3330" y="1585">8</text></g>
<g id="d3b-17" class="nd"><circle cx="3498" cy="1582" r="24"/><text x="3498" y="1582">17</text></g>
<g id="d3b-6" class="gn"><circle cx="3266" cy="1678" r="24"/><text x="3266" y="1678">6</text></g>
<g id="d3b-19" class="nd"><circle cx="3580" cy="1667" r="24"/><text x="3580" y="1667">19</text></g>
<!-- alt example -->
<g id="a-30" class="nd"><circle cx="2407" cy="1963" r="27"/><circle class="ring" cx="2405" cy="1962" r="31"/><text x="2407" y="1963">30</text></g>
<g id="a-10" class="nd"><circle cx="2337" cy="2032" r="27"/><text x="2337" y="2032">10</text></g>
<g id="a-100" class="nd"><circle cx="2482" cy="2030" r="27"/><text x="2482" y="2030">100</text></g>
<g id="a-50" class="nd"><circle cx="2422" cy="2104" r="27"/><text x="2422" y="2104">50</text></g>
<g id="a-40" class="nd"><circle cx="2350" cy="2182" r="27"/><circle class="ring" cx="2349" cy="2183" r="31"/><text x="2350" y="2182">40</text></g>
<g id="a-45" class="nd"><circle cx="2445" cy="2259" r="27"/><text x="2445" y="2259">45</text></g>
<g id="a-42" class="nd"><circle cx="2389" cy="2341" r="27"/><text x="2389" y="2341">42</text></g>
<g id="a-48" class="nd"><circle cx="2536" cy="2338" r="27"/><text x="2536" y="2338">48</text></g>
<g id="b-40" class="nd"><circle cx="2761" cy="1968" r="27"/><text x="2761" y="1968">40</text></g>
<g id="b-10" class="nd"><circle cx="2690" cy="2040" r="27"/><text x="2690" y="2040">10</text></g>
<g id="b-100" class="nd"><circle cx="2838" cy="2039" r="27"/><text x="2838" y="2039">100</text></g>
<g id="b-50" class="nd"><circle cx="2776" cy="2114" r="27"/><text x="2776" y="2114">50</text></g>
<g id="b-30" class="nd"><circle cx="2701" cy="2190" r="27"/><circle class="ring" cx="2701" cy="2190" r="31"/><text x="2701" y="2190">30</text></g>
<g id="b-45" class="nd"><circle cx="2798" cy="2268" r="27"/><text x="2798" y="2268">45</text></g>
<g id="b-42" class="nd"><circle cx="2741" cy="2350" r="27"/><text x="2741" y="2350">42</text></g>
<g id="b-48" class="nd"><circle cx="2887" cy="2344" r="27"/><text x="2887" y="2344">48</text></g>
<g id="c-40" class="nd"><circle cx="3191" cy="1976" r="27"/><text x="3191" y="1976">40</text></g>
<g id="c-10" class="nd"><circle cx="3122" cy="2046" r="27"/><text x="3122" y="2046">10</text></g>
<g id="c-100" class="nd"><circle cx="3268" cy="2045" r="27"/><text x="3268" y="2045">100</text></g>
<g id="c-50" class="nd"><circle cx="3206" cy="2119" r="27"/><text x="3206" y="2119">50</text></g>
<g id="c-45" class="nd"><circle cx="3155" cy="2217" r="27"/><text x="3155" y="2217">45</text></g>
<g id="c-42" class="nd"><circle cx="3098" cy="2301" r="27"/><text x="3098" y="2301">42</text></g>
<g id="c-48" class="nd"><circle cx="3245" cy="2294" r="27"/><text x="3245" y="2294">48</text></g>
</g>
</svg>
